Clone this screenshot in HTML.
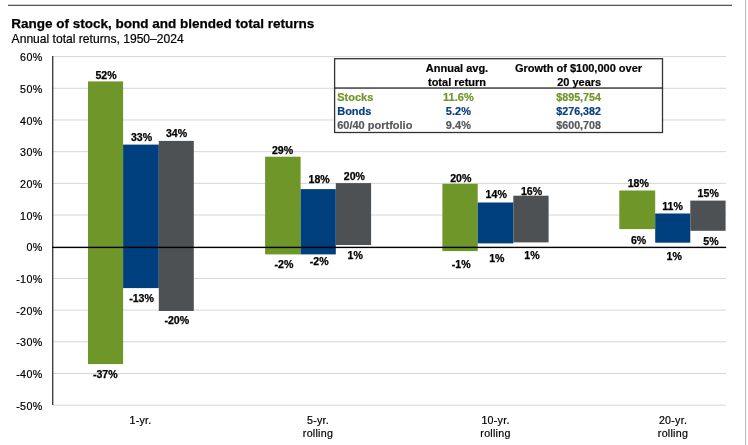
<!DOCTYPE html>
<html><head><meta charset="utf-8"><title>Range of stock, bond and blended total returns</title>
<style>
html,body{margin:0;padding:0;background:#fff;}
body{width:748px;height:445px;overflow:hidden;position:relative;font-family:"Liberation Sans",Arial,sans-serif;}
svg{position:absolute;left:0;top:0;display:block}
text{font-family:"Liberation Sans",Arial,sans-serif;}
.b{font-weight:bold}
</style></head><body>
<svg width="748" height="445" viewBox="0 0 748 445">
<rect x="0" y="0" width="748" height="445" fill="#fff"/>
<rect x="8" y="4.7" width="724" height="1.3" fill="#595959"/>
<rect x="745" y="0" width="1.1" height="445" fill="#bdbdbd"/>
<text x="11.3" y="27.9" font-size="13.5" class="b" fill="#000" stroke="#000" stroke-width="0.25">Range of stock, bond and blended total returns</text>
<text x="11.6" y="42.9" font-size="12.1" fill="#000" stroke="#000" stroke-width="0.2">Annual total returns, 1950–2024</text>

<rect x="53" y="56.08" width="673" height="1" fill="#d6d6d6"/>
<text x="42.7" y="61.13" font-size="10.7" letter-spacing="0.4" text-anchor="end" fill="#000" stroke="#000" stroke-width="0.2">60%</text>
<rect x="53" y="87.77" width="673" height="1" fill="#d6d6d6"/>
<text x="42.7" y="92.82" font-size="10.7" letter-spacing="0.4" text-anchor="end" fill="#000" stroke="#000" stroke-width="0.2">50%</text>
<rect x="53" y="119.46" width="673" height="1" fill="#d6d6d6"/>
<text x="42.7" y="124.51" font-size="10.7" letter-spacing="0.4" text-anchor="end" fill="#000" stroke="#000" stroke-width="0.2">40%</text>
<rect x="53" y="151.15" width="673" height="1" fill="#d6d6d6"/>
<text x="42.7" y="156.20" font-size="10.7" letter-spacing="0.4" text-anchor="end" fill="#000" stroke="#000" stroke-width="0.2">30%</text>
<rect x="53" y="182.84" width="673" height="1" fill="#d6d6d6"/>
<text x="42.7" y="187.89" font-size="10.7" letter-spacing="0.4" text-anchor="end" fill="#000" stroke="#000" stroke-width="0.2">20%</text>
<rect x="53" y="214.53" width="673" height="1" fill="#d6d6d6"/>
<text x="42.7" y="219.58" font-size="10.7" letter-spacing="0.4" text-anchor="end" fill="#000" stroke="#000" stroke-width="0.2">10%</text>
<text x="42.7" y="251.27" font-size="10.7" letter-spacing="0.4" text-anchor="end" fill="#000" stroke="#000" stroke-width="0.2">0%</text>
<rect x="53" y="277.91" width="673" height="1" fill="#d6d6d6"/>
<text x="42.7" y="282.96" font-size="10.7" letter-spacing="0.4" text-anchor="end" fill="#000" stroke="#000" stroke-width="0.2">-10%</text>
<rect x="53" y="309.60" width="673" height="1" fill="#d6d6d6"/>
<text x="42.7" y="314.65" font-size="10.7" letter-spacing="0.4" text-anchor="end" fill="#000" stroke="#000" stroke-width="0.2">-20%</text>
<rect x="53" y="341.29" width="673" height="1" fill="#d6d6d6"/>
<text x="42.7" y="346.34" font-size="10.7" letter-spacing="0.4" text-anchor="end" fill="#000" stroke="#000" stroke-width="0.2">-30%</text>
<rect x="53" y="372.98" width="673" height="1" fill="#d6d6d6"/>
<text x="42.7" y="378.03" font-size="10.7" letter-spacing="0.4" text-anchor="end" fill="#000" stroke="#000" stroke-width="0.2">-40%</text>
<rect x="53" y="404.67" width="673" height="1" fill="#d6d6d6"/>
<text x="42.7" y="409.72" font-size="10.7" letter-spacing="0.4" text-anchor="end" fill="#000" stroke="#000" stroke-width="0.2">-50%</text>
<g transform="translate(0,0.3)">
<rect x="88.0" y="81.1" width="35.1" height="282.7" fill="#6f9628"/>
<rect x="123.1" y="144.3" width="35.7" height="143.5" fill="#003f7d"/>
<rect x="158.8" y="140.6" width="35.0" height="170.1" fill="#4d5154"/>
<rect x="265.1" y="156.4" width="35.5" height="97.7" fill="#6f9628"/>
<rect x="300.6" y="188.8" width="35.2" height="65.3" fill="#003f7d"/>
<rect x="335.8" y="182.8" width="35.3" height="61.9" fill="#4d5154"/>
<rect x="442.4" y="183.5" width="35.3" height="67.3" fill="#6f9628"/>
<rect x="477.7" y="202.2" width="35.6" height="40.9" fill="#003f7d"/>
<rect x="513.3" y="195.4" width="35.3" height="46.7" fill="#4d5154"/>
<rect x="619.3" y="190.2" width="35.9" height="38.6" fill="#6f9628"/>
<rect x="655.2" y="213.2" width="35.1" height="29.2" fill="#003f7d"/>
<rect x="690.3" y="200.3" width="35.3" height="30.2" fill="#4d5154"/>
</g>
<rect x="52.1" y="56" width="1.25" height="349" fill="#2b2b2b"/>
<rect x="52.2" y="246.7" width="674" height="1.4" fill="#000"/>
<g transform="translate(0,0.3)">
<text x="106" y="78.6" font-size="10.6" class="b" text-anchor="middle" fill="#000" stroke="#000" stroke-width="0.25">52%</text>
<text x="141.5" y="140.9" font-size="10.6" class="b" text-anchor="middle" fill="#000" stroke="#000" stroke-width="0.25">33%</text>
<text x="176.5" y="136.8" font-size="10.6" class="b" text-anchor="middle" fill="#000" stroke="#000" stroke-width="0.25">34%</text>
<text x="105.3" y="377.9" font-size="10.6" class="b" text-anchor="middle" fill="#000" stroke="#000" stroke-width="0.25">-37%</text>
<text x="141.5" y="301.3" font-size="10.6" class="b" text-anchor="middle" fill="#000" stroke="#000" stroke-width="0.25">-13%</text>
<text x="176.8" y="324.0" font-size="10.6" class="b" text-anchor="middle" fill="#000" stroke="#000" stroke-width="0.25">-20%</text>
<text x="282.5" y="154.0" font-size="10.6" class="b" text-anchor="middle" fill="#000" stroke="#000" stroke-width="0.25">29%</text>
<text x="319.1" y="183.0" font-size="10.6" class="b" text-anchor="middle" fill="#000" stroke="#000" stroke-width="0.25">18%</text>
<text x="354.4" y="179.6" font-size="10.6" class="b" text-anchor="middle" fill="#000" stroke="#000" stroke-width="0.25">20%</text>
<text x="284" y="268.0" font-size="10.6" class="b" text-anchor="middle" fill="#000" stroke="#000" stroke-width="0.25">-2%</text>
<text x="319.2" y="264.9" font-size="10.6" class="b" text-anchor="middle" fill="#000" stroke="#000" stroke-width="0.25">-2%</text>
<text x="355.2" y="258.8" font-size="10.6" class="b" text-anchor="middle" fill="#000" stroke="#000" stroke-width="0.25">1%</text>
<text x="460.8" y="181.8" font-size="10.6" class="b" text-anchor="middle" fill="#000" stroke="#000" stroke-width="0.25">20%</text>
<text x="496.2" y="197.9" font-size="10.6" class="b" text-anchor="middle" fill="#000" stroke="#000" stroke-width="0.25">14%</text>
<text x="531.5" y="195.0" font-size="10.6" class="b" text-anchor="middle" fill="#000" stroke="#000" stroke-width="0.25">16%</text>
<text x="461.2" y="268.1" font-size="10.6" class="b" text-anchor="middle" fill="#000" stroke="#000" stroke-width="0.25">-1%</text>
<text x="496.8" y="261.9" font-size="10.6" class="b" text-anchor="middle" fill="#000" stroke="#000" stroke-width="0.25">1%</text>
<text x="532" y="258.9" font-size="10.6" class="b" text-anchor="middle" fill="#000" stroke="#000" stroke-width="0.25">1%</text>
<text x="638.3" y="186.7" font-size="10.6" class="b" text-anchor="middle" fill="#000" stroke="#000" stroke-width="0.25">18%</text>
<text x="672.5" y="210.0" font-size="10.6" class="b" text-anchor="middle" fill="#000" stroke="#000" stroke-width="0.25">11%</text>
<text x="708.2" y="197.0" font-size="10.6" class="b" text-anchor="middle" fill="#000" stroke="#000" stroke-width="0.25">15%</text>
<text x="638.6" y="244.1" font-size="10.6" class="b" text-anchor="middle" fill="#000" stroke="#000" stroke-width="0.25">6%</text>
<text x="674.2" y="259.9" font-size="10.6" class="b" text-anchor="middle" fill="#000" stroke="#000" stroke-width="0.25">1%</text>
<text x="711" y="244.8" font-size="10.6" class="b" text-anchor="middle" fill="#000" stroke="#000" stroke-width="0.25">5%</text>
</g>
<text x="140.5" y="423.8" font-size="10.7" letter-spacing="0.25" text-anchor="middle" fill="#000" stroke="#000" stroke-width="0.2">1-yr.</text>
<text x="318" y="423.8" font-size="10.7" letter-spacing="0.25" text-anchor="middle" fill="#000" stroke="#000" stroke-width="0.2">5-yr.</text>
<text x="318" y="436.7" font-size="10.7" letter-spacing="0.25" text-anchor="middle" fill="#000" stroke="#000" stroke-width="0.2">rolling</text>
<text x="495.5" y="423.8" font-size="10.7" letter-spacing="0.25" text-anchor="middle" fill="#000" stroke="#000" stroke-width="0.2">10-yr.</text>
<text x="495.5" y="436.7" font-size="10.7" letter-spacing="0.25" text-anchor="middle" fill="#000" stroke="#000" stroke-width="0.2">rolling</text>
<text x="673" y="423.8" font-size="10.7" letter-spacing="0.25" text-anchor="middle" fill="#000" stroke="#000" stroke-width="0.2">20-yr.</text>
<text x="673" y="436.7" font-size="10.7" letter-spacing="0.25" text-anchor="middle" fill="#000" stroke="#000" stroke-width="0.2">rolling</text>
<rect x="334.6" y="58.7" width="327.9" height="73.8" fill="#fff" stroke="#333" stroke-width="1.3"/>
<rect x="334.6" y="87.4" width="327.9" height="1.3" fill="#222"/>
<text x="457" y="72.1" font-size="11" class="b" text-anchor="middle" fill="#000" stroke="#000" stroke-width="0.2">Annual avg.</text>
<text x="457" y="86.1" font-size="11" class="b" text-anchor="middle" fill="#000" stroke="#000" stroke-width="0.2">total return</text>
<text x="578.5" y="72.1" font-size="11" class="b" text-anchor="middle" fill="#000" stroke="#000" stroke-width="0.2">Growth of $100,000 over</text>
<text x="579.2" y="86.1" font-size="11" class="b" text-anchor="middle" fill="#000" stroke="#000" stroke-width="0.2">20 years</text>
<text x="337.2" y="100.5" font-size="11" class="b" text-anchor="start" fill="#6f9628" stroke="#6f9628" stroke-width="0.2">Stocks</text>
<text x="458.4" y="100.5" font-size="11" class="b" text-anchor="middle" fill="#6f9628" stroke="#6f9628" stroke-width="0.2">11.6%</text>
<text x="578.6" y="100.5" font-size="10.7" class="b" text-anchor="middle" fill="#6f9628" stroke="#6f9628" stroke-width="0.2">$895,754</text>
<text x="337.2" y="115.0" font-size="11" class="b" text-anchor="start" fill="#073f80" stroke="#073f80" stroke-width="0.2">Bonds</text>
<text x="458.4" y="115.0" font-size="11" class="b" text-anchor="middle" fill="#073f80" stroke="#073f80" stroke-width="0.2">5.2%</text>
<text x="578.6" y="115.0" font-size="10.7" class="b" text-anchor="middle" fill="#073f80" stroke="#073f80" stroke-width="0.2">$276,382</text>
<text x="337.2" y="128.9" font-size="11" class="b" text-anchor="start" fill="#55585a" stroke="#55585a" stroke-width="0.2">60/40 portfolio</text>
<text x="458.4" y="128.9" font-size="11" class="b" text-anchor="middle" fill="#55585a" stroke="#55585a" stroke-width="0.2">9.4%</text>
<text x="578.6" y="128.9" font-size="10.7" class="b" text-anchor="middle" fill="#55585a" stroke="#55585a" stroke-width="0.2">$600,708</text>
</svg></body></html>
